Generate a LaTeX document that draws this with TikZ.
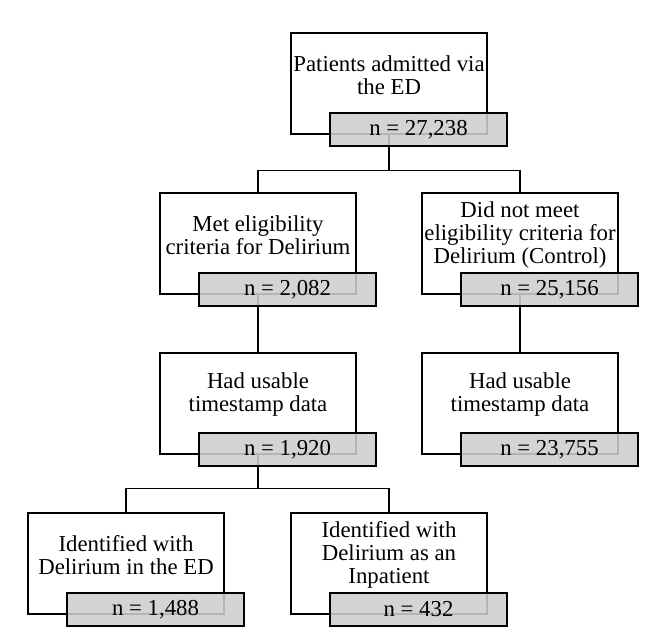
\documentclass[tikz,border=0pt]{standalone}
\usepackage{fontspec}
\setmainfont{Liberation Serif}
\usetikzlibrary{backgrounds}
\definecolor{boxgrey}{RGB}{206,206,206}
\tikzset{
  wbox/.style={draw, line width=1.3pt, minimum width=196pt, minimum height=101pt, inner sep=0pt},
  txt/.style={align=center, inner sep=0pt, font=\fontsize{22.8}{23}\selectfont},
  gbox/.style={draw, line width=1.3pt, fill=boxgrey, fill opacity=0.88, text opacity=1, draw opacity=1,
    minimum width=177pt, minimum height=33pt, inner sep=0pt, font=\fontsize{22.8}{23}\selectfont},
  conn/.style={draw, line width=1.3pt}
}
\newcommand\FlowBox[5]{%
  \node[wbox] (#1w) at (#2, #3+50.5) {};
  \node[txt] (#1t) at (#2, #3+42) {#4};
  \node[gbox] (#1g) at (#2+29.5, #3+96.5) {#5};
}
\begin{document}
\begin{tikzpicture}[x=1pt, y=-1pt]
\useasboundingbox (0,0) rectangle (661,630);
\FlowBox{a}{389}{33}{Patients admitted via\\the ED}{n = 27,238}
\FlowBox{b}{258}{193}{Met eligibility\\criteria for Delirium}{n = 2,082}
\FlowBox{c}{520}{193}{Did not meet\\eligibility criteria for\\Delirium (Control)}{n = 25,156}
\FlowBox{d}{258}{353}{Had usable\\timestamp data}{n = 1,920}
\FlowBox{e}{520}{353}{Had usable\\timestamp data}{n = 23,755}
\FlowBox{f}{126}{513}{Identified with\\Delirium in the ED}{n = 1,488}
\FlowBox{g}{389}{513}{Identified with\\Delirium as an\\Inpatient}{n = 432}
\begin{scope}[on background layer]
  \path (aw.south) ++(0,36) coordinate (j1);
  \path (dw.south) ++(0,34) coordinate (j2);
  \draw[conn] (aw.south) -- (j1) -| (bw.north);
  \draw[conn] (j1) -| (cw.north);
  \draw[conn] (bw.south) -- (dw.north);
  \draw[conn] (cw.south) -- (ew.north);
  \draw[conn] (dw.south) -- (j2) -| (fw.north);
  \draw[conn] (j2) -| (gw.north);
\end{scope}
\end{tikzpicture}
\end{document}
